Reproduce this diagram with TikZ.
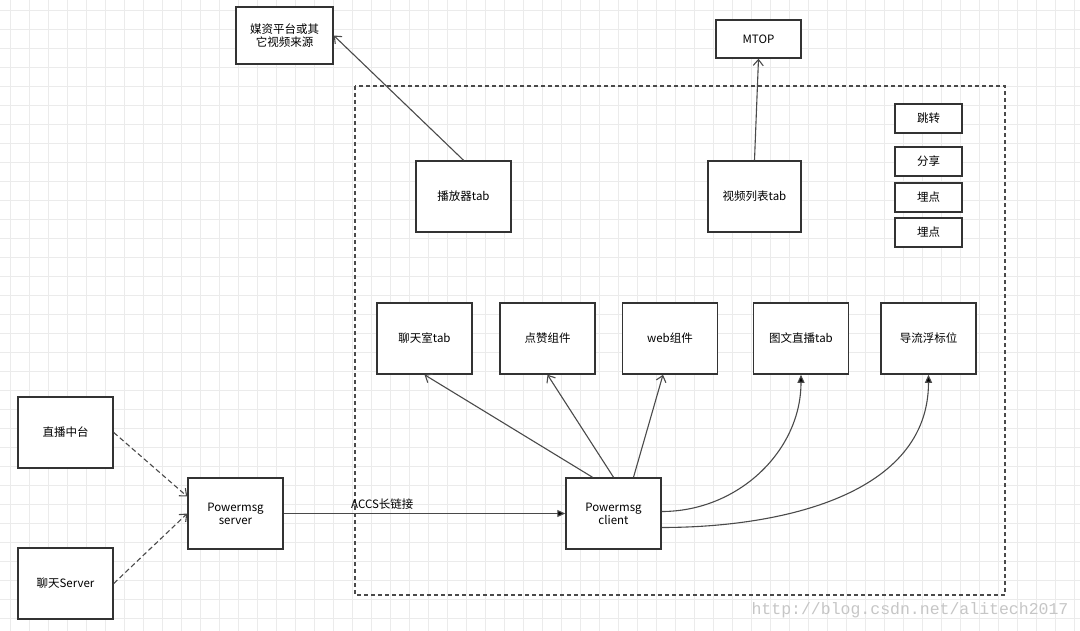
\documentclass[tikz,border=0pt]{standalone}
\usepackage{fontspec}
\setmainfont{Noto Sans CJK SC}
\newfontfamily\markfont{Liberation Mono}
\usetikzlibrary{arrows.meta}
\definecolor{boxline}{HTML}{333333}
\definecolor{linkline}{HTML}{4A4A4A}
\definecolor{gridline}{HTML}{EBEBEB}

\begin{document}
\begin{tikzpicture}[x=1pt, y=-1pt, thick,
  main/.style = {draw=boxline, line width=1.5pt, fill=white, rectangle, minimum width=95pt, minimum height=71pt, align=center, font=\fontsize{11.5}{13}\selectfont, inner sep=1pt},
  small/.style = {main, minimum width=67pt, minimum height=29pt},
  flat/.style = {main, minimum width=85pt, minimum height=38pt},
  open/.style = {-{Straight Barb[length=6pt,width=10pt]}, draw=linkline, line width=1.1pt},
  solid/.style = {-{Triangle[length=8pt,width=7pt,fill=black]}, draw=linkline, line width=1.1pt},
  dashlink/.style = {open, dash pattern=on 5pt off 3pt}]
\useasboundingbox (0,0) rectangle (1080,631);
\fill[white] (0,0) rectangle (1080,631);
% grid
\foreach \x in {10,29,...,1080} \draw[gridline, line width=0.8pt] (\x,0) -- (\x,631);
\foreach \y in {10,29,...,631} \draw[gridline, line width=0.8pt] (0,\y) -- (1080,\y);
% container
\draw[linkline, line width=1.3pt, dash pattern=on 4pt off 3pt] (355,86) rectangle (1005,595);

\node[main, minimum width=97pt, minimum height=57pt] (media) at (284.5,35.5) {媒资平台或其\\它视频来源};
\node[flat] (mtop) at (758.5,39) {MTOP};
\node[main] (player) at (463.5,196.5) {播放器tab};
\node[main, minimum width=93pt] (video) at (754.5,196.5) {视频列表tab};
\node[small] (jump) at (928.5,118.5) {跳转};
\node[small] (share) at (928.5,161.5) {分享};
\node[small] (track1) at (928.5,197.5) {埋点};
\node[small] (track2) at (928.5,232.5) {埋点};
\node[main] (chat) at (424.5,338.5) {聊天室tab};
\node[main] (like) at (547.5,338.5) {点赞组件};
\node[main] (web) at (670,338.5) {web组件};
\node[main] (live) at (801,338.5) {图文直播tab};
\node[main] (guide) at (928.5,338.5) {导流浮标位};
\node[main] (zhibo) at (65.5,432.5) {直播中台};
\node[main] (chatsrv) at (65.5,583.5) {聊天Server};
\node[main] (server) at (235.5,513.5) {Powermsg\\server};
\node[main] (client) at (613.5,513.5) {Powermsg\\client};

\draw[open] (player.north) -- (media.east);
\draw[open] (video.north) -- (mtop.south);
\draw[open] ([xshift=-21pt]client.north) -- (chat.south);
\draw[open] (client.north) -- (like.south);
\draw[open] ([xshift=20pt]client.north) -- ([xshift=-7pt]web.south);
\draw[solid] ([yshift=2pt]client.east) to[out=0, in=-90] (live.south);
\draw[solid] ([yshift=-14pt]client.east) to[out=0, in=-90] (guide.south);
\draw[dashlink] (zhibo.east) -- ([yshift=17pt]server.west);
\draw[dashlink] (chatsrv.east) -- (server.west);
\draw[solid] (server.east) -- node[above, font=\fontsize{11.5}{13}\selectfont, pos=0.35] {ACCS长链接} (client.west);

\node[text=gray!45, font=\markfont\fontsize{16.5}{18}\selectfont] (mark) at (910,610) {http://blog.csdn.net/alitech2017};
\end{tikzpicture}
\end{document}
